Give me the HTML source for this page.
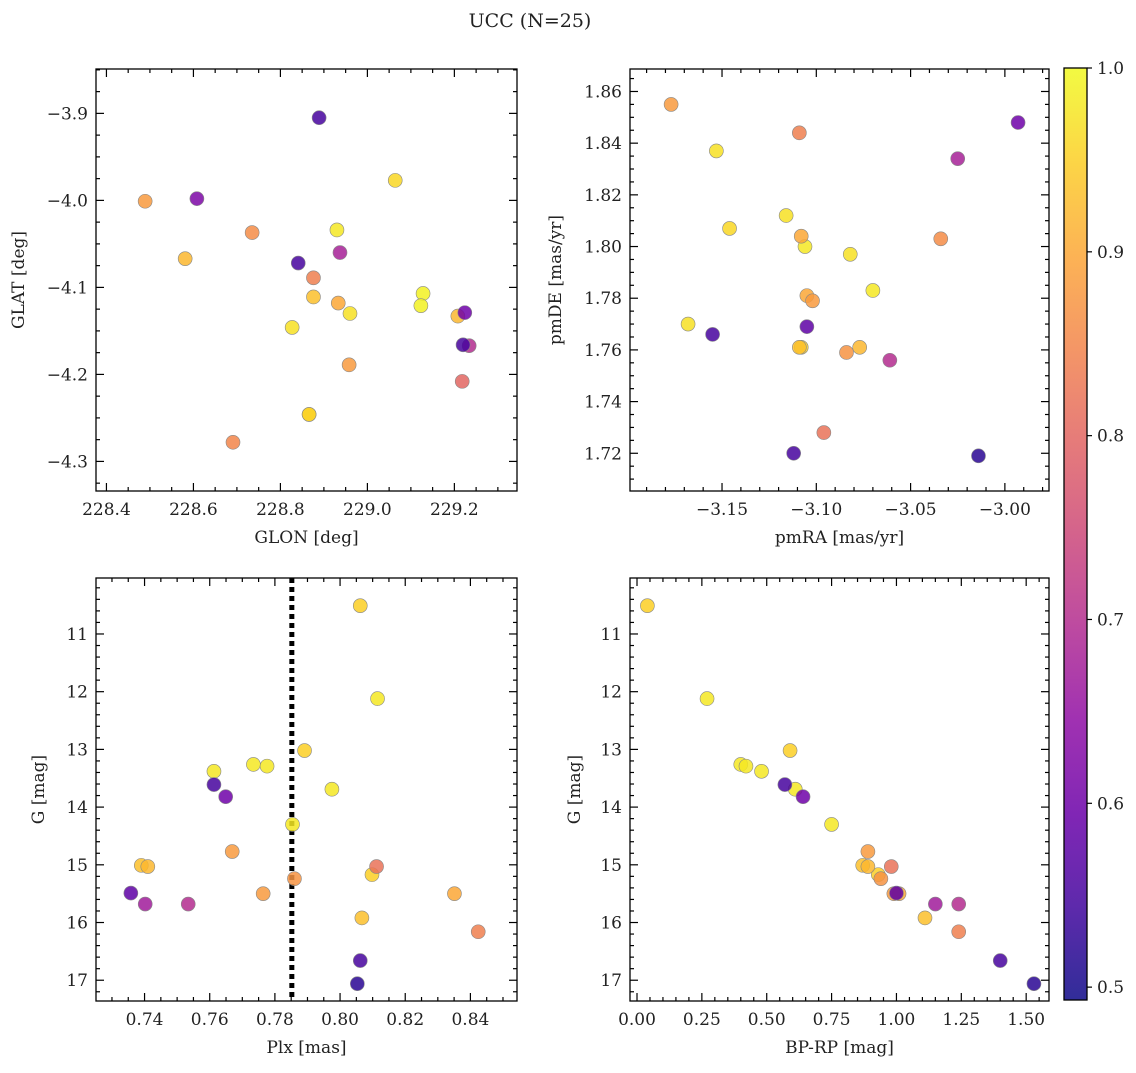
<!DOCTYPE html>
<html><head><meta charset="utf-8"><style>
body{margin:0;background:#fff;}
svg text{font-family:"DejaVu Serif","Liberation Serif",serif;fill:#222;}
</style></head><body>
<svg id="fig" width="1136" height="1068" xmlns="http://www.w3.org/2000/svg">
<text x="530" y="27" font-size="19" text-anchor="middle">UCC (N=25)</text>
</svg>
<script>
// ---- data ----
const p1X=[228.489,228.608,228.581,228.735,228.889,228.841,228.876,228.876,228.827,229.064,228.930,228.937,228.933,228.960,228.866,228.691,228.958,229.128,229.123,229.208,229.224,229.220,229.234,229.218,228.866];
const p1Y=[-4.001,-3.998,-4.067,-4.037,-3.905,-4.072,-4.089,-4.111,-4.146,-3.977,-4.034,-4.060,-4.118,-4.130,-4.246,-4.278,-4.189,-4.107,-4.121,-4.133,-4.129,-4.166,-4.167,-4.208,-4.246];
const p1C=[0.88,0.62,0.92,0.86,0.55,0.55,0.84,0.93,0.97,0.96,0.98,0.68,0.90,0.97,0.98,0.85,0.88,0.99,0.99,0.92,0.60,0.55,0.70,0.80,0.95];
const p2X=[-3.177,-3.153,-3.109,-2.993,-3.025,-3.146,-3.116,-3.108,-3.106,-3.034,-3.082,-3.070,-3.105,-3.102,-3.168,-3.105,-3.155,-3.109,-3.108,-3.084,-3.077,-3.061,-3.096,-3.112,-3.014];
const p2Y=[1.855,1.837,1.844,1.848,1.834,1.807,1.812,1.804,1.800,1.803,1.797,1.783,1.781,1.779,1.770,1.769,1.766,1.761,1.761,1.759,1.761,1.756,1.728,1.720,1.719];
const p2C=[0.88,0.97,0.84,0.60,0.68,0.96,0.97,0.90,0.98,0.86,0.97,0.98,0.90,0.88,0.97,0.58,0.55,0.93,0.95,0.87,0.92,0.70,0.82,0.55,0.52];
const gMag=[10.51,12.12,13.02,13.38,13.26,13.29,13.69,13.61,13.82,14.30,14.77,15.01,15.03,15.03,15.17,15.24,15.49,15.68,15.68,15.50,15.50,15.92,16.16,16.66,17.06];
const plx=[0.8062,0.8115,0.7891,0.7613,0.7734,0.7776,0.7975,0.7613,0.7649,0.7854,0.7669,0.7390,0.7410,0.8112,0.8098,0.7860,0.7358,0.7402,0.7534,0.7764,0.8351,0.8067,0.8424,0.8062,0.8053];
const bprp=[0.04,0.27,0.59,0.48,0.40,0.42,0.61,0.57,0.64,0.75,0.89,0.87,0.89,0.98,0.93,0.94,1.00,1.15,1.24,0.99,1.01,1.11,1.24,1.40,1.53];
const gC=[0.95,0.98,0.95,0.98,0.98,0.98,0.98,0.55,0.60,0.98,0.88,0.93,0.92,0.82,0.95,0.87,0.58,0.67,0.70,0.88,0.90,0.93,0.84,0.55,0.52];
const plxLine=0.7852;
const cbTicks=[0.5,0.6,0.7,0.8,0.9,1.0];
// ---- helpers ----
const NS="http://www.w3.org/2000/svg";
const svg=document.getElementById('fig');
function mk(tag,at,parent){const e=document.createElementNS(NS,tag);for(const k in at)e.setAttribute(k,at[k]);(parent||svg).appendChild(e);return e;}
const stops=[[13,8,135],[65,4,157],[106,0,168],[143,13,164],[177,42,144],[204,71,120],[225,100,98],[242,132,75],[252,166,54],[252,206,37],[240,249,33]];
function plasma(t){t=Math.max(0,Math.min(1,t))*10;const i=Math.min(9,Math.floor(t)),f=t-i;const a=stops[i],b=stops[i+1];return 'rgb('+a.map((v,k)=>Math.round(v+(b[k]-v)*f)).join(',')+')';}
const cmin=0.493,cmax=1.0;
function col(v){return plasma((v-cmin)/(cmax-cmin));}
function panel(o){
  const g=mk('g',{});
  
  
  const sx=v=>o.x0+(v-o.xmin)/(o.xmax-o.xmin)*(o.x1-o.x0);
  const sy=o.yinv?(v=>o.y0+(v-o.ymin)/(o.ymax-o.ymin)*(o.y1-o.y0)):(v=>o.y1-(v-o.ymin)/(o.ymax-o.ymin)*(o.y1-o.y0));
  const tg=mk('g',{stroke:'#000','stroke-width':1.2},g);
  function ticks(min,max,step,minor,axis,fmt){
    const ms=step/minor;const s0=Math.ceil(min/ms-1e-6);
    for(let k=s0;k*ms<=max+1e-9;k++){const v=k*ms;const isMaj=Math.abs(Math.round(v/step)*step-v)<ms*0.01;const L=isMaj?8:4;
      if(axis==='x'){const p=sx(v);mk('line',{x1:p,x2:p,y1:o.y1,y2:o.y1-L},tg);mk('line',{x1:p,x2:p,y1:o.y0,y2:o.y0+L},tg);
        if(isMaj){const t=mk('text',{x:p,y:o.y1+24,'font-size':17,'text-anchor':'middle'},g);t.textContent=fmt(v);}}
      else{const p=sy(v);mk('line',{y1:p,y2:p,x1:o.x0,x2:o.x0+L},tg);mk('line',{y1:p,y2:p,x1:o.x1,x2:o.x1-L},tg);
        if(isMaj){const t=mk('text',{x:o.x0-8,y:p+6,'font-size':17,'text-anchor':'end'},g);t.textContent=fmt(v);}}
    }
  }
  ticks(o.xmin,o.xmax,o.xstep,o.xminor,'x',o.xfmt);
  ticks(o.ymin,o.ymax,o.ystep,o.yminor,'y',o.yfmt);
  if(o.vline!==undefined){const l=mk('line',{x1:sx(o.vline),x2:sx(o.vline),y1:o.y0,y2:o.y1,stroke:'#000','stroke-width':5,'stroke-dasharray':'5 4'},g);}
  const order=o.c.map((c,i)=>i).sort((a,b)=>o.c[b]-o.c[a]);
  for(const i of order){const c=mk('circle',{cx:sx(o.xs[i]),cy:sy(o.ys[i]),r:7,fill:col(o.c[i]),'fill-opacity':0.85,stroke:'#888','stroke-width':0.6},g);
    
    }
  const fr=mk('rect',{x:o.x0,y:o.y0,width:o.x1-o.x0,height:o.y1-o.y0,fill:'none',stroke:'#000','stroke-width':1.3},g);
  
  const xl=mk('text',{x:(o.x0+o.x1)/2,y:o.y1+52,'font-size':17,'text-anchor':'middle'},g);xl.textContent=o.xlab;
  
  const yx=o.ylx,yy=(o.y0+o.y1)/2;
  const yl=mk('text',{x:yx,y:yy,'font-size':17,'text-anchor':'middle',transform:`rotate(-90 ${yx} ${yy})`},g);yl.textContent=o.ylab;
  
}
const f1=v=>v.toFixed(1).replace('-','\u2212'),f2=v=>v.toFixed(2).replace('-','\u2212'),f0=v=>v.toFixed(0);
panel({name:'glon-glat-panel',x0:96,x1:517,y0:69,y1:491,xmin:228.376,xmax:229.344,ymin:-4.334,ymax:-3.849,xstep:0.2,xminor:4,ystep:0.1,yminor:4,xfmt:f1,yfmt:f1,xs:p1X,ys:p1Y,c:p1C,xlab:'GLON [deg]',ylab:'GLAT [deg]',ylx:24});
panel({name:'pm-panel',x0:630,x1:1049,y0:69,y1:491,xmin:-3.1988,xmax:-2.9766,ymin:1.7054,ymax:1.8687,xstep:0.05,xminor:5,ystep:0.02,yminor:4,xfmt:f2,yfmt:f2,xs:p2X,ys:p2Y,c:p2C,xlab:'pmRA [mas/yr]',ylab:'pmDE [mas/yr]',ylx:561});
panel({name:'plx-g-panel',x0:96,x1:517,y0:578,y1:1001,yinv:true,xmin:0.7251,xmax:0.8543,ymin:10.03,ymax:17.36,xstep:0.02,xminor:4,ystep:1,yminor:5,xfmt:f2,yfmt:f0,xs:plx,ys:gMag,c:gC,xlab:'Plx [mas]',ylab:'G [mag]',ylx:44,vline:plxLine});
panel({name:'cmd-panel',x0:630,x1:1049,y0:578,y1:1001,yinv:true,xmin:-0.027,xmax:1.588,ymin:10.03,ymax:17.36,xstep:0.25,xminor:5,ystep:1,yminor:5,xfmt:f2,yfmt:f0,xs:bprp,ys:gMag,c:gC,xlab:'BP-RP [mag]',ylab:'G [mag]',ylx:580});
// colorbar
const cb=mk('g',{});


const defs=mk('defs',{},cb);const lg=mk('linearGradient',{id:'cbg',x1:0,y1:1,x2:0,y2:0},defs);
for(let i=0;i<=20;i++)mk('stop',{offset:i/20,'stop-color':plasma(i/20),'stop-opacity':0.85},lg);
const cbx0=1064,cbx1=1087,cby0=68,cby1=1000;
mk('rect',{x:cbx0,y:cby0,width:cbx1-cbx0,height:cby1-cby0,fill:'url(#cbg)',stroke:'#000','stroke-width':1.3},cb);
for(const v of cbTicks){const p=cby1-(v-cmin)/(cmax-cmin)*(cby1-cby0);mk('line',{x1:cbx1,x2:cbx1+5,y1:p,y2:p,stroke:'#000','stroke-width':1.2},cb);
  const t=mk('text',{x:cbx1+10,y:p+6,'font-size':17},cb);t.textContent=v.toFixed(1);
  
  }
</script>
</body></html>
